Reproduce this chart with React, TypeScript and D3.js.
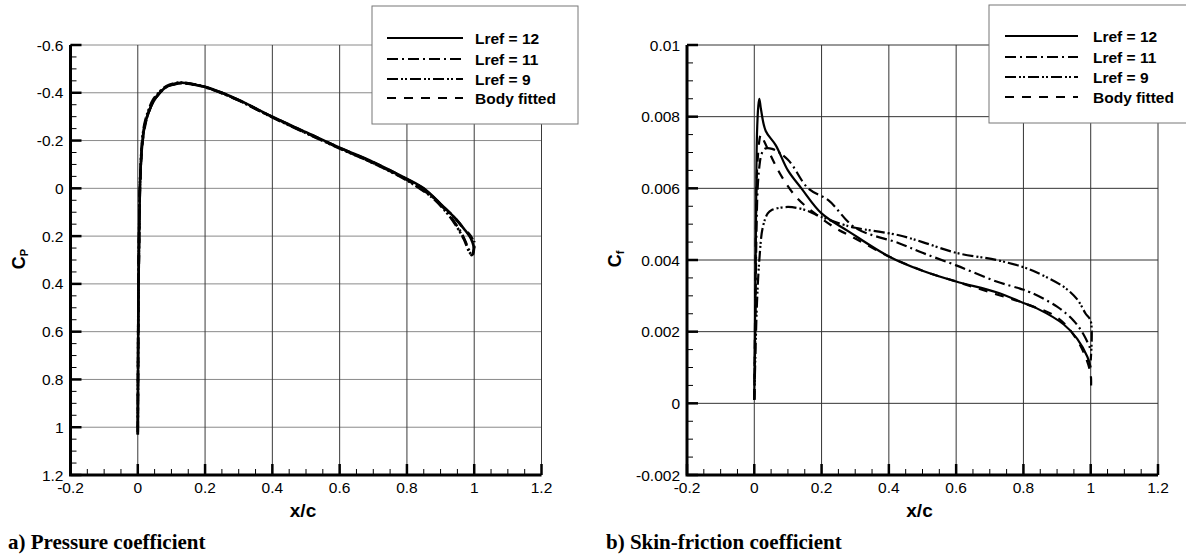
import React from 'react';
import * as d3 from 'd3';

const width = 1186;
const height = 559;

const legendLabels = ['Lref = 12', 'Lref = 11', 'Lref = 9', 'Body fitted'];
const xTicks = [-0.2, 0, 0.2, 0.4, 0.6, 0.8, 1, 1.2];
const cpTicks = [-0.6, -0.4, -0.2, 0, 0.2, 0.4, 0.6, 0.8, 1, 1.2];
const cfTicks = [-0.002, 0, 0.002, 0.004, 0.006, 0.008, 0.01];

// pressure coefficient
const cpX12 = [0, 0.001, 0.002, 0.004, 0.006, 0.009, 0.013, 0.02, 0.03, 0.045, 0.065, 0.085, 0.11, 0.13, 0.16, 0.2, 0.25, 0.3, 0.4, 0.5, 0.6, 0.7, 0.8, 0.85, 0.9, 0.94, 0.97, 0.99, 1.0];
const cpY12 = [1.03, 0.7, 0.45, 0.2, 0.02, -0.1, -0.18, -0.26, -0.31, -0.36, -0.4, -0.425, -0.438, -0.442, -0.437, -0.425, -0.4, -0.37, -0.3, -0.235, -0.17, -0.11, -0.04, 0.0, 0.065, 0.12, 0.17, 0.21, 0.25];
const cpX11 = [0, 0.001, 0.002, 0.004, 0.006, 0.009, 0.013, 0.02, 0.03, 0.045, 0.065, 0.085, 0.11, 0.13, 0.16, 0.2, 0.25, 0.3, 0.4, 0.5, 0.6, 0.7, 0.8, 0.85, 0.88, 0.92, 0.95, 0.97, 0.985, 0.993, 0.998, 1.0];
const cpY11 = [1.02, 0.68, 0.44, 0.19, 0.01, -0.1, -0.19, -0.26, -0.31, -0.36, -0.4, -0.424, -0.436, -0.44, -0.436, -0.423, -0.398, -0.368, -0.298, -0.232, -0.168, -0.106, -0.035, 0.01, 0.04, 0.1, 0.16, 0.21, 0.26, 0.28, 0.26, 0.22];
const cpX9 = [0, 0.001, 0.002, 0.004, 0.006, 0.009, 0.013, 0.02, 0.03, 0.045, 0.065, 0.085, 0.11, 0.13, 0.16, 0.2, 0.25, 0.3, 0.4, 0.5, 0.6, 0.7, 0.8, 0.85, 0.88, 0.92, 0.95, 0.97, 0.985, 0.995, 1.0];
const cpY9 = [1.0, 0.66, 0.42, 0.18, 0.0, -0.11, -0.2, -0.27, -0.32, -0.37, -0.405, -0.428, -0.44, -0.443, -0.438, -0.424, -0.399, -0.368, -0.297, -0.231, -0.167, -0.105, -0.033, 0.012, 0.045, 0.105, 0.165, 0.215, 0.265, 0.28, 0.24];
const cpXBody = [0, 0.001, 0.002, 0.004, 0.006, 0.009, 0.013, 0.02, 0.03, 0.045, 0.065, 0.085, 0.11, 0.13, 0.16, 0.2, 0.25, 0.3, 0.4, 0.5, 0.6, 0.7, 0.8, 0.85, 0.9, 0.94, 0.97, 0.99, 1.0];
const cpYBody = [1.03, 0.71, 0.46, 0.21, 0.03, -0.09, -0.18, -0.25, -0.31, -0.36, -0.4, -0.424, -0.437, -0.44, -0.436, -0.424, -0.4, -0.369, -0.299, -0.234, -0.17, -0.109, -0.038, 0.002, 0.066, 0.12, 0.17, 0.2, 0.23];

// skin friction coefficient
const cfX12 = [0, 0.002, 0.005, 0.008, 0.012, 0.015, 0.02, 0.034, 0.064, 0.1, 0.14, 0.2, 0.28, 0.4, 0.5, 0.6, 0.72, 0.8, 0.84, 0.92, 0.96, 0.99, 1.0];
const cfY12 = [0.0001, 0.002, 0.005, 0.0075, 0.0083, 0.0085, 0.0082, 0.0076, 0.0072, 0.0065, 0.006, 0.0053, 0.0048, 0.0041, 0.0037, 0.0034, 0.0031, 0.0028, 0.00265, 0.0022, 0.0018, 0.0013, 0.001];
const cfX11 = [0, 0.003, 0.006, 0.01, 0.015, 0.02, 0.03, 0.053, 0.1, 0.16, 0.22, 0.3, 0.43, 0.5, 0.6, 0.72, 0.79, 0.82, 0.9, 0.95, 0.98, 1.0];
const cfY11 = [0.0001, 0.002, 0.0045, 0.006, 0.0066, 0.0069, 0.0071, 0.0071, 0.0068, 0.006, 0.00567, 0.0049, 0.00447, 0.0042, 0.00385, 0.0034, 0.0032, 0.0031, 0.0027, 0.0023, 0.0019, 0.0015];
const cfX9 = [0, 0.003, 0.008, 0.015, 0.025, 0.04, 0.053, 0.1, 0.15, 0.2, 0.26, 0.3, 0.43, 0.5, 0.6, 0.72, 0.8, 0.84, 0.92, 0.96, 0.985, 1.0, 1.0];
const cfY9 = [0.0001, 0.0012, 0.0028, 0.004, 0.0049, 0.0053, 0.0054, 0.00548, 0.0054, 0.0052, 0.005, 0.0049, 0.00469, 0.0045, 0.0042, 0.004, 0.0038, 0.00365, 0.00325, 0.0029, 0.0025, 0.0023, 0.0012];
const cfXBody = [0, 0.002, 0.005, 0.01, 0.02, 0.03, 0.04, 0.06, 0.09, 0.13, 0.18, 0.24, 0.3, 0.4, 0.5, 0.6, 0.7, 0.8, 0.9, 0.95, 0.98, 1.0, 1.0];
const cfYBody = [0.0001, 0.002, 0.005, 0.0068, 0.0075, 0.0073, 0.0071, 0.0067, 0.0062, 0.0057, 0.0053, 0.0049, 0.0046, 0.0041, 0.0037, 0.0034, 0.0031, 0.0028, 0.0024, 0.0019, 0.0014, 0.0008, 0.0003];

const dashes = ['', '11,4,2,4', '11,3,2,2,2,3', '9,8'];

const zip = (xs: number[], ys: number[]) => xs.map((v, i) => [v, ys[i]] as [number, number]);

const cpSeries = [zip(cpX12, cpY12), zip(cpX11, cpY11), zip(cpX9, cpY9), zip(cpXBody, cpYBody)];
const cfSeries = [zip(cfX12, cfY12), zip(cfX11, cfY11), zip(cfX9, cfY9), zip(cfXBody, cfYBody)];

const sans = 'Arial, "Liberation Sans", sans-serif';
const serif = '"Times New Roman", "Liberation Serif", serif';

type PanelProps = {
  id: string;
  x: d3.ScaleLinear<number, number>;
  y: d3.ScaleLinear<number, number>;
  yTicks: number[];
  minorY: number;
  digits: number;
  series: [number, number][][];
  curveWidth: number;
  hGrid: string;
  vGrid: string;
  legend: { x: number; y: number; w: number; h: number; lx0: number; lx1: number; tx: number; rows: number[] };
  yLabel: string;
  sub: string;
  yLabelX: number;
  caption: string;
  captionX: number;
};

function Panel(p: PanelProps) {
  const { x, y } = p;
  const [x0, x1] = x.range();
  const [yb, yt] = y.range();
  const fmt = (v: number, d: number) => String(+v.toFixed(d));
  const line = d3
    .line<[number, number]>()
    .x((d) => x(d[0]))
    .y((d) => y(d[1]))
    .curve(d3.curveCatmullRom.alpha(0.5));
  const minorX = x.ticks(28);
  const minorYs = y.ticks(p.minorY);
  const lg = p.legend;
  return (
    <g>
      <defs>
        <clipPath id={p.id}>
          <rect x={x0} y={yt} width={x1 - x0} height={yb - yt} />
        </clipPath>
      </defs>
      {/* grid */}
      {p.yTicks.map((t) => (
        <line key={'h' + t} x1={x0} x2={x1} y1={y(t)} y2={y(t)} stroke={p.hGrid} strokeWidth={1} />
      ))}
      {xTicks.map((t) => (
        <line key={'v' + t} x1={x(t)} x2={x(t)} y1={yt} y2={yb} stroke={p.vGrid} strokeWidth={1} />
      ))}
      {/* curves */}
      <g clipPath={`url(#${p.id})`}>
        {p.series.map((s, i) => (
          <path key={i} d={line(s) || ''} fill="none" stroke="#000" strokeWidth={p.curveWidth} strokeDasharray={dashes[i] || undefined} />
        ))}
      </g>
      {/* axes */}
      {minorX.map((t) => (
        <line key={'mx' + t} x1={x(t)} x2={x(t)} y1={yb} y2={yb - 6} stroke="#000" strokeWidth={1} />
      ))}
      {xTicks.map((t) => (
        <line key={'tx' + t} x1={x(t)} x2={x(t)} y1={yb} y2={yb - 11} stroke="#000" strokeWidth={2.5} />
      ))}
      {minorYs.map((t) => (
        <line key={'my' + t} x1={x0} x2={x0 + 6} y1={y(t)} y2={y(t)} stroke="#000" strokeWidth={1} />
      ))}
      {p.yTicks.map((t) => (
        <line key={'ty' + t} x1={x0} x2={x0 + 11} y1={y(t)} y2={y(t)} stroke="#000" strokeWidth={2.5} />
      ))}
      <path d={`M${x0},${yt}V${yb}H${x1}`} fill="none" stroke="#000" strokeWidth={3} />
      {/* tick labels */}
      {xTicks.map((t) => (
        <text key={'lx' + t} x={x(t)} y={yb + 18} textAnchor="middle" fontFamily={sans} fontSize={15.5}>
          {fmt(t, 1)}
        </text>
      ))}
      {p.yTicks.map((t) => (
        <text key={'ly' + t} x={x0 - 7} y={y(t) + 5.5} textAnchor="end" fontFamily={sans} fontSize={15.5}>
          {fmt(t, p.digits)}
        </text>
      ))}
      {/* titles */}
      <text x={(x0 + x1) / 2 - 3} y={517} textAnchor="middle" fontFamily={sans} fontWeight="bold" fontSize={19}>
        x/c
      </text>
      <text transform={`translate(${p.yLabelX},259) rotate(-90)`} textAnchor="middle" fontFamily={sans} fontWeight="bold" fontSize={18}>
        {p.yLabel}
        <tspan fontSize={11} dy={3}>
          {p.sub}
        </tspan>
      </text>
      <text x={p.captionX} y={549} fontFamily={serif} fontWeight="bold" fontSize={21}>
        {p.caption}
      </text>
      {/* legend */}
      <rect x={lg.x} y={lg.y} width={lg.w} height={lg.h} fill="#fff" stroke="#777" strokeWidth={1} />
      {legendLabels.map((name, i) => (
        <g key={name}>
          <line x1={lg.lx0} x2={lg.lx1} y1={lg.rows[i]} y2={lg.rows[i]} stroke="#000" strokeWidth={2.2} strokeDasharray={dashes[i] || undefined} />
          <text x={lg.tx} y={lg.rows[i] + 5.5} fontFamily={sans} fontWeight="bold" fontSize={15.5}>
            {name}
          </text>
        </g>
      ))}
    </g>
  );
}

export default function App() {
  const xA = d3.scaleLinear().domain([-0.2, 1.2]).range([70.5, 541.5]);
  const yA = d3.scaleLinear().domain([1.2, -0.6]).range([475, 45]);
  const xB = d3.scaleLinear().domain([-0.2, 1.2]).range([687, 1158]);
  const yB = d3.scaleLinear().domain([-0.002, 0.01]).range([475, 45]);

  return (
    <svg
      width={width}
      height={height}
      viewBox={`0 0 ${width} ${height}`}
      style={{ position: 'absolute', left: 0, top: 0, background: '#fff' }}
    >
      <Panel
        id="clipA"
        x={xA}
        y={yA}
        yTicks={cpTicks}
        minorY={36}
        digits={1}
        series={cpSeries}
        curveWidth={2.6}
        hGrid="#8a8a8a"
        vGrid="#3a3a3a"
        legend={{ x: 372, y: 6, w: 206, h: 118, lx0: 387, lx1: 463, tx: 475, rows: [38, 59, 79, 98] }}
        yLabel="C"
        sub="P"
        yLabelX={25}
        caption="a) Pressure coefficient"
        captionX={8}
      />
      <Panel
        id="clipB"
        x={xB}
        y={yB}
        yTicks={cfTicks}
        minorY={24}
        digits={3}
        series={cfSeries}
        curveWidth={2.2}
        hGrid="#333"
        vGrid="#333"
        legend={{ x: 989, y: 5, w: 205, h: 118, lx0: 1005, lx1: 1078, tx: 1093, rows: [36, 57, 77, 97] }}
        yLabel="C"
        sub="f"
        yLabelX={621}
        caption="b) Skin-friction coefficient"
        captionX={606}
      />
    </svg>
  );
}
